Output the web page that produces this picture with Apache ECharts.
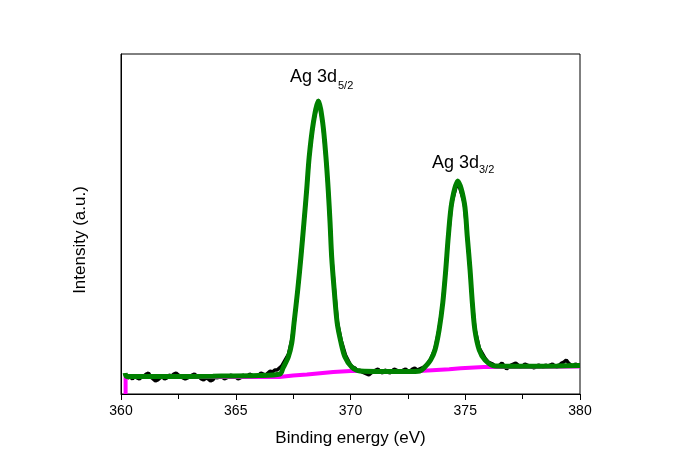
<!DOCTYPE html>
<html>
<head>
<meta charset="utf-8">
<script src="https://cdn.jsdelivr.net/npm/echarts@6/dist/echarts.min.js"></script>
<style>
  html, body { margin: 0; padding: 0; background: #fff; }
  #chart { width: 678px; height: 476px; }
</style>
</head>
<body>
<div id="chart"></div>
<script>
// measured spectrum (black), [binding energy, intensity]
const rawData = [
  [360.2, 18], [360.3, 16], [360.4, 17], [360.5, 15], [360.6, 18], [360.7, 16], [360.8, 15],
  [360.9, 17], [361.0, 18], [361.1, 20], [361.2, 21], [361.3, 17], [361.4, 15], [361.5, 13],
  [361.6, 14], [361.7, 16], [361.8, 17], [361.9, 15], [362.0, 16], [362.1, 19], [362.2, 18],
  [362.3, 20], [362.4, 21], [362.5, 19], [362.6, 18], [362.7, 16], [362.8, 15], [362.9, 16],
  [363.0, 17], [363.1, 19], [363.2, 20], [363.3, 18], [363.4, 17], [363.5, 15], [363.6, 14],
  [363.7, 16], [363.8, 15], [363.9, 13], [364.0, 14], [364.1, 17], [364.2, 16], [364.3, 18],
  [364.4, 18], [364.5, 15], [364.6, 16], [364.7, 18], [364.8, 19], [364.9, 17], [365.0, 17],
  [365.1, 15], [365.2, 16], [365.3, 19], [365.4, 18], [365.5, 17], [365.6, 20], [365.7, 19],
  [365.8, 17], [365.9, 18], [366.0, 19], [366.1, 21], [366.2, 20], [366.3, 19], [366.4, 21],
  [366.5, 23], [366.6, 22], [366.7, 24], [366.8, 24], [366.9, 26], [367.0, 28],
  [367.15, 34], [367.3, 40], [367.45, 55], [367.55, 72], [367.7, 104], [367.84, 137],
  [367.97, 171], [368.09, 204], [368.2, 237], [368.38, 272], [368.6, 294], [368.79, 272],
  [368.93, 237], [369.03, 204], [369.11, 171], [369.18, 137], [369.3, 104], [369.43, 72],
  [369.6, 53], [369.78, 39], [370.0, 29], [370.1, 27], [370.2, 26], [370.3, 23], [370.4, 24],
  [370.5, 22], [370.6, 21], [370.7, 20], [370.8, 19], [370.9, 21], [371.0, 22], [371.1, 24],
  [371.2, 25], [371.3, 22], [371.4, 21], [371.5, 24], [371.6, 23], [371.7, 21], [371.8, 22],
  [371.9, 25], [372.0, 24], [372.1, 22], [372.2, 22], [372.3, 24], [372.4, 25], [372.5, 23],
  [372.6, 23], [372.7, 25], [372.8, 26], [372.9, 24], [373.0, 25], [373.1, 26], [373.2, 27],
  [373.35, 30], [373.5, 35], [373.68, 45],
  [373.86, 65], [374.02, 91], [374.15, 124], [374.26, 157], [374.41, 191], [374.67, 213],
  [374.96, 191], [375.09, 157], [375.21, 124], [375.31, 91], [375.42, 65], [375.61, 46],
  [375.86, 36], [376.0, 32], [376.1, 31], [376.2, 30], [376.3, 28], [376.4, 27], [376.5, 29],
  [376.6, 31], [376.7, 28], [376.8, 25], [376.9, 27], [377.0, 29], [377.1, 30], [377.2, 31],
  [377.3, 29], [377.4, 27], [377.5, 28], [377.6, 30], [377.7, 29], [377.8, 28], [377.9, 27],
  [378.0, 26], [378.1, 28], [378.2, 29], [378.3, 28], [378.4, 27], [378.5, 29], [378.6, 28],
  [378.7, 29], [378.8, 30], [378.9, 28], [379.0, 27], [379.1, 29], [379.2, 31], [379.3, 32],
  [379.4, 34], [379.5, 31], [379.6, 29], [379.7, 28], [379.8, 30], [379.9, 29], [380.0, 29]
];

// background (magenta)
const bgData = [
  [360.2, 0], [360.2, 17], [366.9, 17], [367.5, 18.5], [368.1, 19.5], [369.25, 22],
  [370.0, 23], [373.0, 23], [374.3, 24.8], [374.8, 25.7], [375.8, 27], [380.0, 27.5]
];

// peak fit envelope (green)
const fitData = [
  [360.18, 21], [360.25, 17.5], [362.0, 17.5], [364.0, 17.8], [366.0, 18.5], [366.93, 20],
  [367.06, 26], [367.29, 37], [367.44, 51], [367.54, 71], [367.7, 104], [367.84, 137],
  [367.97, 171], [368.09, 204], [368.2, 237], [368.38, 271], [368.6, 293], [368.79, 271],
  [368.93, 237], [369.03, 204], [369.11, 171], [369.18, 137], [369.29, 104], [369.42, 71],
  [369.59, 51], [369.76, 37], [370.05, 27], [370.41, 23], [371.5, 22.5], [372.5, 22.5],
  [373.03, 23], [373.2, 26], [373.49, 34], [373.68, 44], [373.86, 64], [374.02, 91],
  [374.15, 124], [374.26, 157], [374.41, 191], [374.67, 213], [374.96, 191], [375.09, 157],
  [375.21, 124], [375.31, 91], [375.42, 64], [375.61, 44], [375.86, 34], [376.3, 28],
  [377.5, 27.8], [379.0, 28], [380.0, 28.5]
];

const xTicks = [360, 380, 5];
const peakNames = ['Ag 3d', 'Ag 3d'];
const peakSubs = ['5/2', '3/2'];

const chart = echarts.init(document.getElementById('chart'), null, { renderer: 'canvas' });

const labelFont = 'Arial, "Liberation Sans", sans-serif';

const option = {
  backgroundColor: '#fff',
  animation: false,
  grid: {
    left: 121, right: 98, top: 54, bottom: 82,
    show: true, borderColor: '#000', borderWidth: 1,
    outerBoundsMode: 'none'
  },
  xAxis: {
    type: 'value',
    min: xTicks[0], max: xTicks[1], interval: xTicks[2],
    name: 'Binding energy (eV)',
    nameLocation: 'middle',
    nameGap: 36,
    nameTextStyle: { fontSize: 17, color: '#000', fontFamily: labelFont },
    axisLine: { show: true, onZero: false, lineStyle: { color: '#000', width: 1 } },
    axisTick: { show: true, inside: false, length: 6, lineStyle: { color: '#000' } },
    minorTick: { show: true, splitNumber: 2, length: 5, lineStyle: { color: '#000' } },
    axisLabel: { fontSize: 14, color: '#000', margin: 10, fontFamily: labelFont },
    splitLine: { show: false }
  },
  yAxis: {
    type: 'value',
    min: 0, max: 340,
    name: 'Intensity (a.u.)',
    nameLocation: 'middle',
    nameGap: 32,
    nameTextStyle: { fontSize: 17, color: '#000', fontFamily: labelFont, padding: [0, 0, 0, -32] },
    axisLine: { show: true, lineStyle: { color: '#000', width: 1 } },
    axisTick: { show: false },
    axisLabel: { show: false },
    splitLine: { show: false }
  },
  series: [
    {
      name: 'data', type: 'line', data: rawData, showSymbol: false,
      lineStyle: { color: '#000', width: 3.5 }, z: 2
    },
    {
      name: 'background', type: 'line', data: bgData, showSymbol: false,
      lineStyle: { color: '#ff00ff', width: 4 }, z: 3
    },
    {
      name: 'fit', type: 'line', data: fitData, showSymbol: false, smooth: 0.3,
      lineStyle: { color: '#008000', width: 5 }, z: 4
    }
  ],
  graphic: [
    { type: 'text', x: 290, y: 68, style: { text: peakNames[0], fontSize: 18, fontFamily: labelFont, fill: '#000' } },
    { type: 'text', x: 338, y: 80, style: { text: peakSubs[0], fontSize: 11, fontFamily: labelFont, fill: '#000' } },
    { type: 'text', x: 432, y: 154, style: { text: peakNames[1], fontSize: 18, fontFamily: labelFont, fill: '#000' } },
    { type: 'text', x: 479, y: 164, style: { text: peakSubs[1], fontSize: 11, fontFamily: labelFont, fill: '#000' } }
  ]
};

chart.setOption(option);
</script>
</body>
</html>
